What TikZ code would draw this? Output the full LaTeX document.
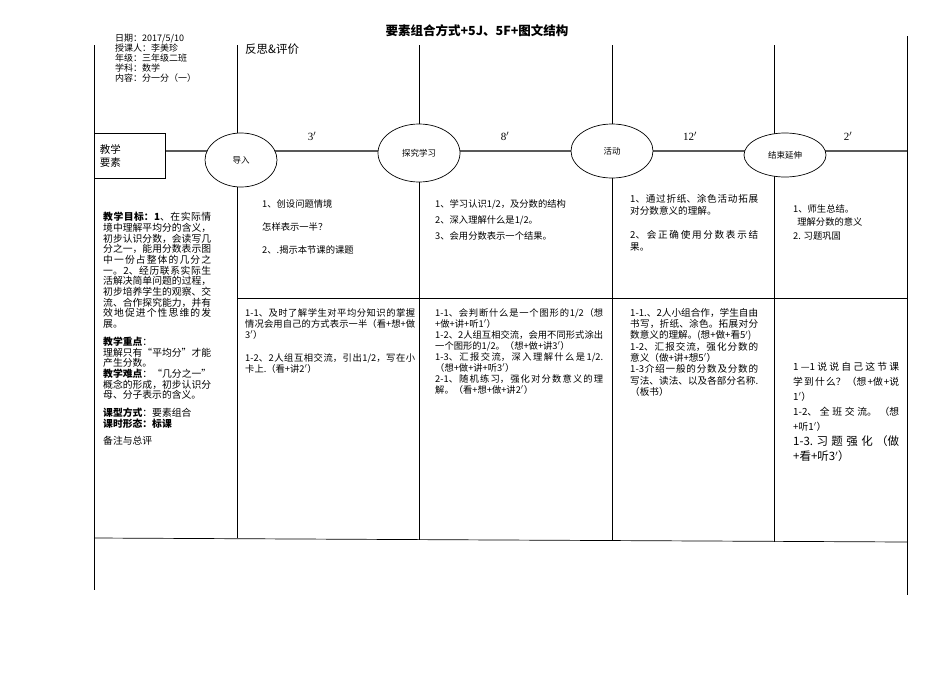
\documentclass[tikz,border=0pt]{standalone}
\usepackage{fontspec}
\setmainfont{Liberation Serif}
\newfontfamily\cjk{Noto Sans CJK SC}
\XeTeXlinebreaklocale "zh"
\XeTeXlinebreakskip=0pt plus 1pt
\usetikzlibrary{shapes.geometric}
\begin{document}
\begin{tikzpicture}[x=1pt,y=-1pt,
  ln/.style={black,line width=0.7pt},
  el/.style={ellipse,draw,fill=white,line width=0.7pt,inner sep=0pt,font=\cjk\fontsize{8.5}{9}\selectfont},
  tx/.style={anchor=north west,inner sep=0pt,align=justify,font=\cjk\fontsize{9.3}{11}\selectfont},
  tm/.style={font=\fontsize{11}{12}\selectfont}]
\useasboundingbox (0,0) rectangle (950,672);
\fill[white] (0,0) rectangle (950,672);
% frame lines
\coordinate (L1) at (94,45); \coordinate (L2) at (94,590);
\coordinate (R1) at (907,36); \coordinate (R2) at (907,595);
\draw[ln] (L1) -- (L2); \draw[ln] (R1) -- (R2);
\foreach \x/\b in {237/538,419/540,612/541,774/542} \draw[ln] (\x,45) -- (\x,\b);
\draw[ln] (94,538) -- (907,542);
\draw[ln] (237,298) -- (907,298);
\draw[gray!70!black,line width=1.2pt] (94,151) -- (907,151);
% box and ellipses
\node[draw,fill=white,line width=0.7pt,minimum width=71pt,minimum height=45pt,anchor=north west,inner sep=2pt,align=left,text width=60pt,font=\cjk\fontsize{10.5}{13}\selectfont] (box) at (94,133) {教学\\要素};
\node[el,minimum width=72pt,minimum height=54pt] (e1) at (241,160) {导入};
\node[el,minimum width=82pt,minimum height=58pt] (e2) at (419,153) {探究学习};
\node[el,minimum width=82pt,minimum height=54pt] (e3) at (612,151) {活动};
\node[el,minimum width=82pt,minimum height=44pt] (e4) at (785,155) {结束延伸};
\node[tm] (t1) at (312,136) {3$'$};
\node[tm] (t2) at (505,136) {8$'$};
\node[tm] (t3) at (690,136) {12$'$};
\node[tm] (t4) at (848,136) {2$'$};
% title
\node[font=\cjk\bfseries\fontsize{12.5}{14}\selectfont] (title) at (477,31) {要素组合方式+5J、5F+图文结构};
\node[tx,align=left,font=\cjk\fontsize{9}{9.9}\selectfont] (head) at (115,34) {日期：2017/5/10\\授课人：李美珍\\年级：三年级二班\\学科：数学\\内容：分一分（一）};
\node[tx,align=left,font=\cjk\fontsize{11.5}{13}\selectfont] (fs) at (245,44) {反思\&评价};
% left column
\node[tx,text width=108pt,font=\cjk\fontsize{9.8}{10.7}\selectfont] (left) at (103,212) {\textbf{教学目标：1}、在实际情境中理解平均分的含义，初步认识分数，会读写几分之一，能用分数表示图中一份占整体的几分之一。2、经历联系实际生活解决简单问题的过程，初步培养学生的观察、交流、合作探究能力，并有效地促进个性思维的发展。\\[7pt]\textbf{教学重点}：\\理解只有“平均分”才能产生分数。\\\textbf{教学难点}：“几分之一”概念的形成，初步认识分母、分子表示的含义。\\[7pt]\textbf{课型方式}：要素组合\\\textbf{课时形态：标课}\\[7pt]备注与总评};
% column 2
\node[tx,align=left] (c2a) at (262,199) {1、创设问题情境\\[12pt]怎样表示一半？\\[12pt]2、.揭示本节课的课题};
\node[tx,text width=170pt] (c2b) at (245,308) {1-1、及时了解学生对平均分知识的掌握情况会用自己的方式表示一半（看+想+做3$'$）\\[12pt]1-2、2人组互相交流，引出1/2，写在小卡上.（看+讲2$'$）};
% column 3
\node[tx,align=left,font=\cjk\fontsize{9.3}{16}\selectfont] (c3a) at (435,199) {1、学习认识1/2，及分数的结构\\2、深入理解什么是1/2。\\3、会用分数表示一个结果。};
\node[tx,text width=168pt] (c3b) at (435,308) {1-1、会判断什么是一个图形的1/2（想+做+讲+听1$'$）\\1-2、2人组互相交流，会用不同形式涂出一个图形的1/2。（想+做+讲3$'$）\\1-3、汇报交流，深入理解什么是1/2.（想+做+讲+听3$'$）\\2-1、随机练习，强化对分数意义的理解。（看+想+做+讲2$'$）};
% column 4
\node[tx,text width=128pt,font=\cjk\fontsize{9.6}{12}\selectfont] (c4a) at (630,194) {1、通过折纸、涂色活动拓展对分数意义的理解。\\[12pt]2、会正确使用分数表示结果。};
\node[tx,text width=128pt,font=\cjk\fontsize{9.6}{11.3}\selectfont] (c4b) at (630,308) {1-1.、2人小组合作，学生自由书写，折纸、涂色。拓展对分数意义的理解。(想+做+看5$'$)\\1-2、汇报交流，强化分数的意义（做+讲+想5$'$）\\1-3介绍一般的分数及分数的写法、读法、以及各部分名称.（板书）};
\node[tx,align=left,font=\cjk\fontsize{9.3}{13.5}\selectfont] (c5a) at (793,204) {1、师生总结。\\\ \ 理解分数的意义\\2. 习题巩固};
\node[tx,text width=106pt,font=\cjk\fontsize{9.8}{15}\selectfont] (c5b) at (793,362) {1—1说说自己这节课学到什么？（想+做+说1$'$）\\1-2、全班交流。（想+听1$'$）\\{\fontsize{11.5}{15}\selectfont 1-3.习题强化（做+看+听3$'$）}};
\end{tikzpicture}
\end{document}
